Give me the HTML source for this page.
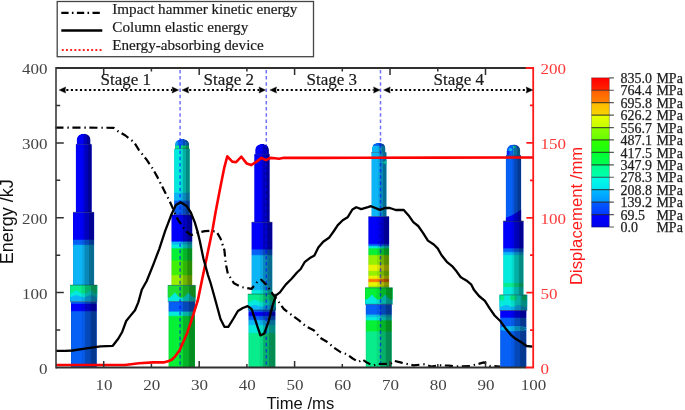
<!DOCTYPE html><html><head><meta charset="utf-8"><style>html,body{margin:0;padding:0;background:#fff;overflow:hidden}svg{display:block}</style></head><body>
<svg style="will-change:transform" width="685" height="410" viewBox="0 0 685 410">
<defs>
<linearGradient id="sh" x1="0" x2="1" y1="0" y2="0">
<stop offset="0" stop-color="#000" stop-opacity="0.10"/>
<stop offset="0.05" stop-color="#000" stop-opacity="0"/>
<stop offset="0.40" stop-color="#000" stop-opacity="0"/>
<stop offset="0.43" stop-color="#000" stop-opacity="0.07"/>
<stop offset="0.53" stop-color="#000" stop-opacity="0.08"/>
<stop offset="0.56" stop-color="#000" stop-opacity="0.24"/>
<stop offset="0.75" stop-color="#000" stop-opacity="0.26"/>
<stop offset="0.78" stop-color="#000" stop-opacity="0.40"/>
<stop offset="0.96" stop-color="#000" stop-opacity="0.42"/>
<stop offset="1" stop-color="#000" stop-opacity="0.30"/>
</linearGradient>
<radialGradient id="dm" cx="0.4" cy="0.7" r="0.7">
<stop offset="0" stop-color="#fff" stop-opacity="0.08"/>
<stop offset="1" stop-color="#000" stop-opacity="0.2"/>
</radialGradient>
</defs>
<rect x="57.2" y="1.5" width="256.3" height="55.2" fill="#fff" stroke="#444" stroke-width="1.3"/>
<line x1="61.3" y1="12.8" x2="100.5" y2="12.8" stroke="#000" stroke-width="2.3" stroke-dasharray="7.3 3.3 1.6 3.4"/>
<line x1="61.3" y1="30.5" x2="102.3" y2="30.5" stroke="#000" stroke-width="2.3"/>
<line x1="61.8" y1="50" x2="102" y2="50" stroke="#ff2020" stroke-width="1.9" stroke-dasharray="1.9 2.3"/>
<g style="font-family:'Liberation Serif',serif;font-size:15.15px" fill="#1a1a1a" stroke="#1a1a1a" stroke-width="0.2">
<text x="112.3" y="14.3">Impact hammer kinetic energy</text>
<text x="112.3" y="32.2">Column elastic energy</text>
<text x="112.3" y="50.2">Energy-absorbing device</text>
</g>
<clipPath id="dc1"><path d="M76.70,144.50 L76.70,140.22 C76.70,136.24 79.32,133.80 83.60,133.80 C87.88,133.80 90.50,136.24 90.50,140.22 L90.50,144.50 Z"/></clipPath>
<g clip-path="url(#dc1)"><path d="M76.70,144.50 L76.70,140.22 C76.70,136.24 79.32,133.80 83.60,133.80 C87.88,133.80 90.50,136.24 90.50,140.22 L90.50,144.50 Z" fill="#0000fa"/><rect x="76.7" y="133.8" width="13.8" height="10.7" fill="url(#sh)"/></g>
<line x1="76.1" y1="144.5" x2="91.1" y2="144.5" stroke="#102030" stroke-width="1.2" stroke-opacity="0.7"/>
<linearGradient id="cg1" x1="0" y1="0" x2="0" y2="1"><stop offset="0.0000" stop-color="#0000fa"/><stop offset="1.0000" stop-color="#0000fa"/></linearGradient><rect x="75.9" y="144.4" width="15.8" height="67.9" fill="url(#cg1)"/><rect x="75.9" y="144.4" width="15.8" height="67.9" fill="url(#sh)"/><linearGradient id="cg2" x1="0" y1="0" x2="0" y2="1"><stop offset="0.0000" stop-color="#0000fa"/><stop offset="0.3681" stop-color="#0000fa"/><stop offset="0.3874" stop-color="#0660f6"/><stop offset="0.4382" stop-color="#0660f6"/><stop offset="0.4574" stop-color="#0cb6f6"/><stop offset="1.0000" stop-color="#0cb6f6"/></linearGradient><rect x="73.0" y="212.3" width="21.1" height="72.8" fill="url(#cg2)"/><rect x="73.0" y="212.3" width="21.1" height="72.8" fill="url(#sh)"/><linearGradient id="cg3" x1="0" y1="0" x2="0" y2="1"><stop offset="0.0000" stop-color="#0cb6f6"/><stop offset="1.0000" stop-color="#0cb6f6"/></linearGradient><rect x="70.0" y="285.1" width="27.2" height="16.6" fill="url(#cg3)"/><path d="M70.00,285.10 L70.00,297.15 L70.40,297.08 L70.80,296.98 L71.20,296.86 L71.60,296.71 L72.00,296.55 L72.40,296.39 L72.80,296.21 L73.20,296.04 L73.60,295.87 L74.00,295.71 L74.40,295.56 L74.80,295.44 L75.20,295.34 L75.60,295.26 L76.00,295.22 L76.40,295.20 L76.80,295.22 L77.20,295.26 L77.60,295.34 L78.00,295.44 L78.40,295.56 L78.80,295.71 L79.20,295.87 L79.60,296.04 L80.00,296.21 L80.40,296.39 L80.80,296.55 L81.20,296.71 L81.60,296.85 L82.00,296.98 L82.40,297.07 L82.80,297.15 L83.20,297.19 L83.60,297.20 L84.00,297.18 L84.40,297.13 L84.80,297.05 L85.20,296.95 L85.60,296.82 L86.00,296.67 L86.40,296.51 L86.80,296.34 L87.20,296.17 L87.60,295.99 L88.00,295.83 L88.40,295.67 L88.80,295.53 L89.20,295.41 L89.60,295.31 L90.00,295.25 L90.40,295.21 L90.80,295.20 L91.20,295.22 L91.60,295.28 L92.00,295.36 L92.40,295.47 L92.80,295.60 L93.20,295.74 L93.60,295.91 L94.00,296.08 L94.40,296.25 L94.80,296.43 L95.20,296.60 L95.60,296.75 L96.00,296.89 L96.40,297.00 L96.80,297.10 L97.20,297.16 L97.20,297.16 L97.20,285.10 Z" fill="#04eadc"/><path d="M70.00,285.10 L70.00,293.55 L70.40,293.49 L70.80,293.39 L71.20,293.27 L71.60,293.13 L72.00,292.96 L72.40,292.77 L72.80,292.56 L73.20,292.33 L73.60,292.08 L74.00,291.81 L74.40,291.53 L74.80,291.24 L75.20,290.94 L75.60,290.63 L76.00,290.32 L76.40,290.00 L76.80,290.32 L77.20,290.63 L77.60,290.94 L78.00,291.24 L78.40,291.53 L78.80,291.81 L79.20,292.08 L79.60,292.33 L80.00,292.56 L80.40,292.77 L80.80,292.96 L81.20,293.13 L81.60,293.27 L82.00,293.39 L82.40,293.49 L82.80,293.55 L83.20,293.59 L83.60,293.60 L84.00,293.58 L84.40,293.54 L84.80,293.47 L85.20,293.37 L85.60,293.24 L86.00,293.09 L86.40,292.92 L86.80,292.72 L87.20,292.50 L87.60,292.27 L88.00,292.01 L88.40,291.74 L88.80,291.46 L89.20,291.17 L89.60,290.86 L90.00,290.55 L90.40,290.24 L90.80,290.08 L91.20,290.39 L91.60,290.71 L92.00,291.01 L92.40,291.31 L92.80,291.60 L93.20,291.88 L93.60,292.14 L94.00,292.39 L94.40,292.61 L94.80,292.82 L95.20,293.01 L95.60,293.17 L96.00,293.31 L96.40,293.42 L96.80,293.50 L97.20,293.56 L97.20,293.56 L97.20,285.10 Z" fill="#08ec8c"/><rect x="70.0" y="285.1" width="27.2" height="16.6" fill="url(#sh)"/><linearGradient id="cg4" x1="0" y1="0" x2="0" y2="1"><stop offset="0.0000" stop-color="#0660f6"/><stop offset="0.0213" stop-color="#0660f6"/><stop offset="0.0426" stop-color="#0000fa"/><stop offset="0.1322" stop-color="#0000fa"/><stop offset="0.1535" stop-color="#0660f6"/><stop offset="1.0000" stop-color="#0660f6"/></linearGradient><rect x="71.0" y="301.7" width="25.8" height="65.8" fill="url(#cg4)"/><rect x="71.0" y="301.7" width="25.8" height="65.8" fill="url(#sh)"/><line x1="73.0" y1="212.3" x2="94.1" y2="212.3" stroke="#102030" stroke-width="0.9" stroke-opacity="0.45"/><line x1="70.0" y1="285.1" x2="97.2" y2="285.1" stroke="#102030" stroke-width="0.9" stroke-opacity="0.45"/><line x1="70.0" y1="301.7" x2="97.2" y2="301.7" stroke="#102030" stroke-width="0.9" stroke-opacity="0.45"/>
<clipPath id="dc2"><path d="M175.10,149.30 L175.10,145.22 C175.10,141.43 177.76,139.10 182.10,139.10 C186.44,139.10 189.10,141.43 189.10,145.22 L189.10,149.30 Z"/></clipPath>
<g clip-path="url(#dc2)"><path d="M175.10,149.30 L175.10,145.22 C175.10,141.43 177.76,139.10 182.10,139.10 C186.44,139.10 189.10,141.43 189.10,145.22 L189.10,149.30 Z" fill="#0660f6"/><rect x="175" y="145.4" width="14.2" height="4" fill="#08ec8c"/><rect x="179.3" y="145.4" width="1.6" height="4" fill="#0660f6"/><rect x="175" y="141.8" width="3" height="3.6" fill="#0cb6f6" opacity="0.7"/><rect x="185" y="142" width="4" height="3.5" fill="#0cb6f6" opacity="0.6"/><rect x="175.1" y="139.1" width="14.0" height="10.2" fill="url(#sh)"/></g>
<line x1="174.5" y1="149.3" x2="189.7" y2="149.3" stroke="#102030" stroke-width="1.2" stroke-opacity="0.7"/>
<linearGradient id="cg5" x1="0" y1="0" x2="0" y2="1"><stop offset="0.0000" stop-color="#04eadc"/><stop offset="0.6545" stop-color="#04eadc"/><stop offset="0.6758" stop-color="#0cb6f6"/><stop offset="0.7747" stop-color="#0cb6f6"/><stop offset="0.7960" stop-color="#0660f6"/><stop offset="1.0000" stop-color="#0660f6"/></linearGradient><rect x="174.1" y="149.1" width="15.7" height="65.7" fill="url(#cg5)"/><rect x="174.1" y="149.1" width="15.7" height="65.7" fill="url(#sh)"/><linearGradient id="cg6" x1="0" y1="0" x2="0" y2="1"><stop offset="0.0000" stop-color="#0000fa"/><stop offset="0.3697" stop-color="#0000fa"/><stop offset="0.3895" stop-color="#0cb6f6"/><stop offset="0.4108" stop-color="#0cb6f6"/><stop offset="0.4306" stop-color="#04eadc"/><stop offset="0.4646" stop-color="#04eadc"/><stop offset="0.4844" stop-color="#06f036"/><stop offset="0.6374" stop-color="#06f036"/><stop offset="0.6572" stop-color="#40f008"/><stop offset="0.8442" stop-color="#40f008"/><stop offset="0.8640" stop-color="#96f000"/><stop offset="1.0000" stop-color="#96f000"/></linearGradient><rect x="171.5" y="214.8" width="20.7" height="70.6" fill="url(#cg6)"/><rect x="171.5" y="214.8" width="20.7" height="70.6" fill="url(#sh)"/><linearGradient id="cg7" x1="0" y1="0" x2="0" y2="1"><stop offset="0.0000" stop-color="#04eadc"/><stop offset="1.0000" stop-color="#04eadc"/></linearGradient><rect x="167.8" y="285.4" width="27.8" height="16.2" fill="url(#cg7)"/><path d="M167.80,285.40 L167.80,297.70 L168.20,297.69 L168.60,297.64 L169.00,297.54 L169.40,297.40 L169.80,297.22 L170.20,297.00 L170.60,296.73 L171.00,296.43 L171.40,296.10 L171.80,295.73 L172.20,295.33 L172.60,294.91 L173.00,294.47 L173.40,294.00 L173.80,293.53 L174.20,293.04 L174.60,292.55 L175.00,292.55 L175.40,293.04 L175.80,293.53 L176.20,294.00 L176.60,294.47 L177.00,294.91 L177.40,295.33 L177.80,295.73 L178.20,296.10 L178.60,296.43 L179.00,296.73 L179.40,297.00 L179.80,297.22 L180.20,297.40 L180.60,297.54 L181.00,297.64 L181.40,297.69 L181.80,297.70 L182.20,297.66 L182.60,297.57 L183.00,297.44 L183.40,297.27 L183.80,297.06 L184.20,296.80 L184.60,296.51 L185.00,296.18 L185.40,295.82 L185.80,295.43 L186.20,295.02 L186.60,294.58 L187.00,294.12 L187.40,293.65 L187.80,293.16 L188.20,292.67 L188.60,292.42 L189.00,292.92 L189.40,293.41 L189.80,293.89 L190.20,294.35 L190.60,294.80 L191.00,295.23 L191.40,295.63 L191.80,296.01 L192.20,296.35 L192.60,296.66 L193.00,296.93 L193.40,297.17 L193.80,297.36 L194.20,297.51 L194.60,297.62 L195.00,297.68 L195.40,297.70 L195.60,297.69 L195.60,285.40 Z" fill="#20e030"/><rect x="167.8" y="285.4" width="27.8" height="16.2" fill="url(#sh)"/><linearGradient id="cg8" x1="0" y1="0" x2="0" y2="1"><stop offset="0.0000" stop-color="#0660f6"/><stop offset="0.1411" stop-color="#0660f6"/><stop offset="0.1624" stop-color="#04eadc"/><stop offset="0.2079" stop-color="#04eadc"/><stop offset="0.2291" stop-color="#06f036"/><stop offset="1.0000" stop-color="#06f036"/></linearGradient><rect x="168.6" y="301.6" width="26.4" height="65.9" fill="url(#cg8)"/><rect x="168.6" y="301.6" width="26.4" height="65.9" fill="url(#sh)"/><line x1="171.5" y1="214.8" x2="192.2" y2="214.8" stroke="#102030" stroke-width="0.9" stroke-opacity="0.45"/><line x1="167.8" y1="285.4" x2="195.6" y2="285.4" stroke="#102030" stroke-width="0.9" stroke-opacity="0.45"/><line x1="167.8" y1="301.6" x2="195.6" y2="301.6" stroke="#102030" stroke-width="0.9" stroke-opacity="0.45"/>
<clipPath id="dc3"><path d="M255.20,154.50 L255.20,150.34 C255.20,146.47 257.80,144.10 262.05,144.10 C266.30,144.10 268.90,146.47 268.90,150.34 L268.90,154.50 Z"/></clipPath>
<g clip-path="url(#dc3)"><path d="M255.20,154.50 L255.20,150.34 C255.20,146.47 257.80,144.10 262.05,144.10 C266.30,144.10 268.90,146.47 268.90,150.34 L268.90,154.50 Z" fill="#0000fa"/><rect x="255.2" y="144.1" width="13.7" height="10.4" fill="url(#sh)"/></g>
<line x1="254.6" y1="154.5" x2="269.5" y2="154.5" stroke="#102030" stroke-width="1.2" stroke-opacity="0.7"/>
<linearGradient id="cg9" x1="0" y1="0" x2="0" y2="1"><stop offset="0.0000" stop-color="#0000fa"/><stop offset="1.0000" stop-color="#0000fa"/></linearGradient><rect x="254.3" y="154.3" width="15.3" height="67.9" fill="url(#cg9)"/><rect x="254.3" y="154.3" width="15.3" height="67.9" fill="url(#sh)"/><linearGradient id="cg10" x1="0" y1="0" x2="0" y2="1"><stop offset="0.0000" stop-color="#0000fa"/><stop offset="0.3686" stop-color="#0000fa"/><stop offset="0.3880" stop-color="#0660f6"/><stop offset="0.4478" stop-color="#0660f6"/><stop offset="0.4673" stop-color="#0cb6f6"/><stop offset="0.9332" stop-color="#0cb6f6"/><stop offset="0.9527" stop-color="#04eadc"/><stop offset="1.0000" stop-color="#04eadc"/></linearGradient><rect x="251.6" y="222.2" width="20.7" height="71.9" fill="url(#cg10)"/><rect x="251.6" y="222.2" width="20.7" height="71.9" fill="url(#sh)"/><linearGradient id="cg11" x1="0" y1="0" x2="0" y2="1"><stop offset="0.0000" stop-color="#0cb6f6"/><stop offset="1.0000" stop-color="#0cb6f6"/></linearGradient><rect x="247.9" y="294.1" width="28.1" height="15.9" fill="url(#cg11)"/><path d="M247.90,294.10 L247.90,306.68 L248.30,306.70 L248.70,306.68 L249.10,306.63 L249.50,306.56 L249.90,306.45 L250.30,306.32 L250.70,306.17 L251.10,306.01 L251.50,305.84 L251.90,305.67 L252.30,305.50 L252.70,305.35 L253.10,305.21 L253.50,305.09 L253.90,305.00 L254.30,304.94 L254.70,304.90 L255.10,304.90 L255.50,304.94 L255.90,305.00 L256.30,305.09 L256.70,305.21 L257.10,305.35 L257.50,305.51 L257.90,305.67 L258.30,305.84 L258.70,306.01 L259.10,306.18 L259.50,306.32 L259.90,306.45 L260.30,306.56 L260.70,306.64 L261.10,306.68 L261.50,306.70 L261.90,306.68 L262.30,306.63 L262.70,306.56 L263.10,306.45 L263.50,306.32 L263.90,306.17 L264.30,306.01 L264.70,305.84 L265.10,305.67 L265.50,305.50 L265.90,305.35 L266.30,305.21 L266.70,305.09 L267.10,305.00 L267.50,304.94 L267.90,304.90 L268.30,304.90 L268.70,304.94 L269.10,305.00 L269.50,305.09 L269.90,305.21 L270.30,305.35 L270.70,305.51 L271.10,305.67 L271.50,305.84 L271.90,306.01 L272.30,306.18 L272.70,306.32 L273.10,306.45 L273.50,306.56 L273.90,306.64 L274.30,306.68 L274.70,306.70 L275.10,306.68 L275.50,306.63 L275.90,306.56 L276.00,306.53 L276.00,294.10 Z" fill="#04eadc"/><path d="M247.90,294.10 L247.90,301.89 L248.30,301.90 L248.70,301.89 L249.10,301.85 L249.50,301.79 L249.90,301.71 L250.30,301.61 L250.70,301.49 L251.10,301.34 L251.50,301.18 L251.90,301.00 L252.30,300.81 L252.70,300.60 L253.10,300.38 L253.50,300.15 L253.90,299.91 L254.30,299.67 L254.70,299.42 L255.10,299.43 L255.50,299.67 L255.90,299.92 L256.30,300.15 L256.70,300.38 L257.10,300.60 L257.50,300.81 L257.90,301.00 L258.30,301.18 L258.70,301.35 L259.10,301.49 L259.50,301.61 L259.90,301.71 L260.30,301.80 L260.70,301.85 L261.10,301.89 L261.50,301.90 L261.90,301.89 L262.30,301.85 L262.70,301.79 L263.10,301.71 L263.50,301.61 L263.90,301.49 L264.30,301.34 L264.70,301.18 L265.10,301.00 L265.50,300.81 L265.90,300.60 L266.30,300.38 L266.70,300.15 L267.10,299.91 L267.50,299.67 L267.90,299.42 L268.30,299.43 L268.70,299.67 L269.10,299.92 L269.50,300.15 L269.90,300.38 L270.30,300.60 L270.70,300.81 L271.10,301.00 L271.50,301.18 L271.90,301.35 L272.30,301.49 L272.70,301.61 L273.10,301.71 L273.50,301.80 L273.90,301.85 L274.30,301.89 L274.70,301.90 L275.10,301.89 L275.50,301.85 L275.90,301.79 L276.00,301.78 L276.00,294.10 Z" fill="#08ec8c"/><rect x="247.9" y="294.1" width="28.1" height="15.9" fill="url(#sh)"/><linearGradient id="cg12" x1="0" y1="0" x2="0" y2="1"><stop offset="0.0000" stop-color="#0660f6"/><stop offset="0.0226" stop-color="#0660f6"/><stop offset="0.0470" stop-color="#0000fa"/><stop offset="0.0922" stop-color="#0000fa"/><stop offset="0.1165" stop-color="#0660f6"/><stop offset="0.1617" stop-color="#0660f6"/><stop offset="0.1861" stop-color="#0cb6f6"/><stop offset="0.2487" stop-color="#0cb6f6"/><stop offset="0.2730" stop-color="#04eadc"/><stop offset="0.3878" stop-color="#04eadc"/><stop offset="0.4122" stop-color="#08ec8c"/><stop offset="1.0000" stop-color="#08ec8c"/></linearGradient><rect x="248.5" y="310.0" width="26.9" height="57.5" fill="url(#cg12)"/><rect x="248.5" y="310.0" width="26.9" height="57.5" fill="url(#sh)"/><line x1="251.6" y1="222.2" x2="272.3" y2="222.2" stroke="#102030" stroke-width="0.9" stroke-opacity="0.45"/><line x1="247.9" y1="294.1" x2="276.0" y2="294.1" stroke="#102030" stroke-width="0.9" stroke-opacity="0.45"/><line x1="247.9" y1="310.0" x2="276.0" y2="310.0" stroke="#102030" stroke-width="0.9" stroke-opacity="0.45"/>
<clipPath id="dc4"><path d="M371.90,152.80 L371.90,148.88 C371.90,145.23 374.48,143.00 378.70,143.00 C382.92,143.00 385.50,145.23 385.50,148.88 L385.50,152.80 Z"/></clipPath>
<g clip-path="url(#dc4)"><path d="M371.90,152.80 L371.90,148.88 C371.90,145.23 374.48,143.00 378.70,143.00 C382.92,143.00 385.50,145.23 385.50,148.88 L385.50,152.80 Z" fill="#0cb6f6"/><rect x="371" y="142" width="16" height="3.8" fill="#0660f6"/><rect x="371.9" y="143.0" width="13.6" height="9.8" fill="url(#sh)"/></g>
<line x1="371.3" y1="152.8" x2="386.1" y2="152.8" stroke="#102030" stroke-width="1.2" stroke-opacity="0.7"/>
<linearGradient id="cg13" x1="0" y1="0" x2="0" y2="1"><stop offset="0.0000" stop-color="#0cb6f6"/><stop offset="1.0000" stop-color="#0cb6f6"/></linearGradient><rect x="371.5" y="152.6" width="15.0" height="64.0" fill="url(#cg13)"/><rect x="371.5" y="152.6" width="15.0" height="64.0" fill="url(#sh)"/><linearGradient id="cg14" x1="0" y1="0" x2="0" y2="1"><stop offset="0.0000" stop-color="#0000fa"/><stop offset="0.3750" stop-color="#0000fa"/><stop offset="0.3947" stop-color="#0660f6"/><stop offset="0.4031" stop-color="#0660f6"/><stop offset="0.4228" stop-color="#04eadc"/><stop offset="0.4354" stop-color="#04eadc"/><stop offset="0.4551" stop-color="#06f036"/><stop offset="0.5295" stop-color="#06f036"/><stop offset="0.5492" stop-color="#96f000"/><stop offset="0.6671" stop-color="#96f000"/><stop offset="0.6868" stop-color="#e8f400"/><stop offset="0.7528" stop-color="#e8f400"/><stop offset="0.7725" stop-color="#96f000"/><stop offset="0.8202" stop-color="#96f000"/><stop offset="0.8399" stop-color="#e8f400"/><stop offset="0.8666" stop-color="#e8f400"/><stop offset="0.8862" stop-color="#ff7400"/><stop offset="0.9087" stop-color="#ff7400"/><stop offset="0.9284" stop-color="#e8f400"/><stop offset="0.9649" stop-color="#e8f400"/><stop offset="0.9846" stop-color="#96f000"/><stop offset="1.0000" stop-color="#96f000"/></linearGradient><rect x="368.4" y="216.6" width="20.7" height="71.2" fill="url(#cg14)"/><rect x="368.4" y="216.6" width="20.7" height="71.2" fill="url(#sh)"/><linearGradient id="cg15" x1="0" y1="0" x2="0" y2="1"><stop offset="0.0000" stop-color="#04eadc"/><stop offset="1.0000" stop-color="#04eadc"/></linearGradient><rect x="365.0" y="287.8" width="27.6" height="16.5" fill="url(#cg15)"/><path d="M365.00,287.80 L365.00,299.59 L365.40,299.60 L365.80,299.56 L366.20,299.48 L366.60,299.35 L367.00,299.18 L367.40,298.97 L367.80,298.71 L368.20,298.41 L368.60,298.08 L369.00,297.71 L369.40,297.32 L369.80,296.90 L370.20,296.45 L370.60,295.99 L371.00,295.51 L371.40,295.02 L371.80,294.53 L372.20,294.77 L372.60,295.26 L373.00,295.74 L373.40,296.21 L373.80,296.67 L374.20,297.10 L374.60,297.51 L375.00,297.89 L375.40,298.24 L375.80,298.56 L376.20,298.84 L376.60,299.08 L377.00,299.27 L377.40,299.42 L377.80,299.53 L378.20,299.59 L378.60,299.60 L379.00,299.56 L379.40,299.48 L379.80,299.35 L380.20,299.18 L380.60,298.97 L381.00,298.71 L381.40,298.41 L381.80,298.08 L382.20,297.71 L382.60,297.32 L383.00,296.90 L383.40,296.45 L383.80,295.99 L384.20,295.51 L384.60,295.02 L385.00,294.53 L385.40,294.77 L385.80,295.26 L386.20,295.74 L386.60,296.21 L387.00,296.67 L387.40,297.10 L387.80,297.51 L388.20,297.89 L388.60,298.24 L389.00,298.56 L389.40,298.84 L389.80,299.08 L390.20,299.27 L390.60,299.42 L391.00,299.53 L391.40,299.59 L391.80,299.60 L392.20,299.56 L392.60,299.48 L392.60,299.48 L392.60,287.80 Z" fill="#06f036"/><rect x="365.0" y="287.8" width="27.6" height="16.5" fill="url(#sh)"/><linearGradient id="cg16" x1="0" y1="0" x2="0" y2="1"><stop offset="0.0000" stop-color="#0660f6"/><stop offset="0.1519" stop-color="#0660f6"/><stop offset="0.1741" stop-color="#10bce8"/><stop offset="0.1899" stop-color="#10bce8"/><stop offset="0.2120" stop-color="#04eadc"/><stop offset="0.2421" stop-color="#04eadc"/><stop offset="0.2642" stop-color="#06f036"/><stop offset="0.4193" stop-color="#06f036"/><stop offset="0.4415" stop-color="#08ec8c"/><stop offset="1.0000" stop-color="#08ec8c"/></linearGradient><rect x="365.8" y="304.3" width="26.0" height="63.2" fill="url(#cg16)"/><rect x="365.8" y="304.3" width="26.0" height="63.2" fill="url(#sh)"/><line x1="368.4" y1="216.6" x2="389.1" y2="216.6" stroke="#102030" stroke-width="0.9" stroke-opacity="0.45"/><line x1="365.0" y1="287.8" x2="392.6" y2="287.8" stroke="#102030" stroke-width="0.9" stroke-opacity="0.45"/><line x1="365.0" y1="304.3" x2="392.6" y2="304.3" stroke="#102030" stroke-width="0.9" stroke-opacity="0.45"/>
<path d="M386.5,160.2 L382.2,162.6 L386.5,164.8 Z" fill="#10c0a0" opacity="0.9"/>
<clipPath id="dc5"><path d="M506.60,155.60 L506.60,151.20 C506.60,147.11 509.18,144.60 513.40,144.60 C517.62,144.60 520.20,147.11 520.20,151.20 L520.20,155.60 Z"/></clipPath>
<g clip-path="url(#dc5)"><path d="M506.60,155.60 L506.60,151.20 C506.60,147.11 509.18,144.60 513.40,144.60 C517.62,144.60 520.20,147.11 520.20,151.20 L520.20,155.60 Z" fill="#0660f6"/><ellipse cx="510.5" cy="149.5" rx="1.8" ry="1.6" fill="#0cb6f6"/><ellipse cx="514.3" cy="147" rx="1.6" ry="1.1" fill="#08ec8c"/><path d="M513,148 L520.5,148 L520.5,156 L513,156 Z" fill="#10a0c8" opacity="0.75"/><rect x="506.5" y="151" width="3" height="5" fill="#0000fa" opacity="0.6"/><rect x="506.6" y="144.6" width="13.6" height="11.0" fill="url(#sh)"/></g>
<line x1="506.0" y1="155.6" x2="520.8" y2="155.6" stroke="#102030" stroke-width="1.2" stroke-opacity="0.7"/>
<linearGradient id="cg17" x1="0" y1="0" x2="0" y2="1"><stop offset="0.0000" stop-color="#0660f6"/><stop offset="1.0000" stop-color="#0660f6"/></linearGradient><rect x="505.9" y="155.6" width="15.2" height="65.6" fill="url(#cg17)"/><rect x="505.9" y="155.6" width="15.2" height="65.6" fill="url(#sh)"/><linearGradient id="cg18" x1="0" y1="0" x2="0" y2="1"><stop offset="0.0000" stop-color="#0000fa"/><stop offset="0.3582" stop-color="#0000fa"/><stop offset="0.3772" stop-color="#0660f6"/><stop offset="0.4084" stop-color="#0660f6"/><stop offset="0.4274" stop-color="#0cb6f6"/><stop offset="0.4491" stop-color="#0cb6f6"/><stop offset="0.4681" stop-color="#04eadc"/><stop offset="0.8290" stop-color="#04eadc"/><stop offset="0.8480" stop-color="#08ec8c"/><stop offset="0.8833" stop-color="#08ec8c"/><stop offset="0.9023" stop-color="#04eadc"/><stop offset="1.0000" stop-color="#04eadc"/></linearGradient><rect x="503.2" y="221.2" width="20.3" height="73.7" fill="url(#cg18)"/><rect x="503.2" y="221.2" width="20.3" height="73.7" fill="url(#sh)"/><linearGradient id="cg19" x1="0" y1="0" x2="0" y2="1"><stop offset="0.0000" stop-color="#0cb6f6"/><stop offset="1.0000" stop-color="#0cb6f6"/></linearGradient><rect x="499.5" y="294.9" width="27.7" height="15.6" fill="url(#cg19)"/><path d="M499.50,294.90 L499.50,306.87 L499.90,306.90 L500.30,306.89 L500.70,306.84 L501.10,306.75 L501.50,306.62 L501.90,306.47 L502.30,306.29 L502.70,306.10 L503.10,305.90 L503.50,305.70 L503.90,305.50 L504.30,305.33 L504.70,305.17 L505.10,305.05 L505.50,304.96 L505.90,304.91 L506.30,304.90 L506.70,304.93 L507.10,305.00 L507.50,305.11 L507.90,305.25 L508.30,305.42 L508.70,305.60 L509.10,305.80 L509.50,306.00 L509.90,306.20 L510.30,306.39 L510.70,306.55 L511.10,306.69 L511.50,306.80 L511.90,306.87 L512.30,306.90 L512.70,306.89 L513.10,306.84 L513.50,306.75 L513.90,306.62 L514.30,306.47 L514.70,306.29 L515.10,306.10 L515.50,305.90 L515.90,305.70 L516.30,305.50 L516.70,305.33 L517.10,305.17 L517.50,305.05 L517.90,304.96 L518.30,304.91 L518.70,304.90 L519.10,304.93 L519.50,305.00 L519.90,305.11 L520.30,305.25 L520.70,305.42 L521.10,305.60 L521.50,305.80 L521.90,306.00 L522.30,306.20 L522.70,306.39 L523.10,306.55 L523.50,306.69 L523.90,306.80 L524.30,306.87 L524.70,306.90 L525.10,306.89 L525.50,306.84 L525.90,306.75 L526.30,306.62 L526.70,306.47 L527.10,306.29 L527.20,306.25 L527.20,294.90 Z" fill="#04eadc"/><ellipse cx="501.9" cy="297.8" rx="2.6" ry="3.0" fill="#08ec8c"/><ellipse cx="513.2" cy="297.8" rx="3.6" ry="3.0" fill="#08ec8c"/><ellipse cx="524.3" cy="297.8" rx="2.6" ry="3.0" fill="#08ec8c"/><rect x="499.5" y="294.9" width="27.7" height="15.6" fill="url(#sh)"/><linearGradient id="cg20" x1="0" y1="0" x2="0" y2="1"><stop offset="0.0000" stop-color="#0000fa"/><stop offset="0.1158" stop-color="#0000fa"/><stop offset="0.1404" stop-color="#0660f6"/><stop offset="1.0000" stop-color="#0660f6"/></linearGradient><rect x="500.2" y="310.5" width="26.1" height="57.0" fill="url(#cg20)"/><rect x="500.2" y="310.5" width="26.1" height="57.0" fill="url(#sh)"/><line x1="503.2" y1="221.2" x2="523.5" y2="221.2" stroke="#102030" stroke-width="0.9" stroke-opacity="0.45"/><line x1="499.5" y1="294.9" x2="527.2" y2="294.9" stroke="#102030" stroke-width="0.9" stroke-opacity="0.45"/><line x1="499.5" y1="310.5" x2="527.2" y2="310.5" stroke="#102030" stroke-width="0.9" stroke-opacity="0.45"/>
<path d="M505.9,221.2 L505.9,217.8 C509,216.5 513,215 516,213 C518,211.5 520,210.5 521.1,209.8 L521.1,221.2 Z" fill="#0000fa"/><path d="M505.9,221.2 L505.9,217.8 C509,216.5 513,215 516,213 C518,211.5 520,210.5 521.1,209.8 L521.1,221.2 Z" fill="url(#sh)"/>
<line x1="503.2" y1="221.2" x2="523.5" y2="221.2" stroke="#102030" stroke-width="0.9" stroke-opacity="0.45"/>
<clipPath id="c5l"><rect x="500.2" y="310.5" width="26.1" height="57"/></clipPath><g clip-path="url(#c5l)"><ellipse cx="513.5" cy="328.6" rx="14.5" ry="2.6" fill="#0cb6f6"/><ellipse cx="513.25" cy="328.6" rx="13.05" ry="2.6" fill="url(#sh)"/></g>
<line x1="180.1" y1="68" x2="180.1" y2="367" stroke="#0000ff" stroke-width="1.5" stroke-dasharray="3.5 2.7" stroke-dashoffset="-1.9" stroke-opacity="0.56"/>
<line x1="266.3" y1="68" x2="266.3" y2="367" stroke="#0000ff" stroke-width="1.5" stroke-dasharray="3.5 2.7" stroke-dashoffset="-1.9" stroke-opacity="0.56"/>
<line x1="380.5" y1="68" x2="380.5" y2="367" stroke="#0000ff" stroke-width="1.5" stroke-dasharray="3.5 2.7" stroke-dashoffset="-1.9" stroke-opacity="0.56"/>
<polyline points="56.0,365.0 125.0,365.0 139.0,363.3 153.0,362.4 163.6,362.4 168.8,361.0 171.7,359.8 175.0,356.6 179.5,350.5 187.3,332.7 193.2,315.1 198.0,299.5 202.0,280.0 206.2,260.0 212.7,228.8 215.6,212.0 220.5,186.6 224.4,167.1 227.3,156.3 232.2,161.6 236.1,162.2 241.4,156.7 246.8,163.6 251.1,165.1 256.6,161.6 261.5,157.9 266.0,160.2 270.2,157.9 275.0,158.3 279.0,158.7 284.0,157.8 320.0,157.9 360.0,157.7 440.0,157.6 533.0,157.5" fill="none" stroke="#ff0000" stroke-width="2.6" stroke-linejoin="round"/>
<polyline points="56.0,350.9 65.5,350.9 72.5,350.5 86.5,348.4 100.5,346.3 112.8,345.8 118.4,338.5 122.3,331.7 126.2,321.0 130.1,316.1 135.0,310.2 138.3,302.4 141.8,289.8 146.7,281.0 153.4,264.4 159.3,248.8 165.1,231.2 171.0,215.6 175.9,204.9 180.7,202.3 186.6,205.9 190.9,212.7 194.8,222.4 197.7,232.2 199.6,240.0 203.4,258.5 208.0,275.1 210.6,283.0 214.5,297.0 220.5,319.0 224.4,326.8 228.3,326.8 233.2,319.0 237.9,311.0 242.8,308.0 247.7,306.1 251.6,309.0 255.5,320.7 260.4,335.4 264.3,333.4 268.2,322.7 273.0,304.1 276.0,295.4 279.9,292.4 285.7,284.6 291.6,278.8 297.0,272.5 300.7,269.0 304.6,262.2 309.5,258.3 314.4,255.4 318.3,247.6 323.2,241.7 329.0,237.8 333.9,231.0 337.8,225.1 342.7,220.2 347.6,217.3 352.4,209.5 356.3,207.2 361.2,209.1 368.0,207.2 371.0,206.2 380.0,209.9 385.0,208.0 389.9,208.0 395.7,210.0 403.5,209.8 408.4,215.2 413.3,222.1 418.2,226.0 423.0,232.8 427.9,240.6 433.8,244.5 437.7,248.4 441.6,255.2 446.8,261.8 452.7,266.7 456.5,271.3 460.6,277.0 463.8,279.1 467.2,281.1 471.1,284.3 474.1,290.1 479.0,296.0 484.9,300.9 489.8,308.7 494.6,315.5 500.5,321.3 505.4,328.2 510.6,334.6 515.0,338.3 520.8,341.9 526.6,346.0 532.5,346.6" fill="none" stroke="#000" stroke-width="2.3" stroke-linejoin="round"/>
<polyline points="55.4,127.6 113.7,127.8 117.6,131.0 125.4,135.5 134.1,142.3 139.0,150.1 146.8,159.9 152.7,168.7 157.6,177.4 165.4,193.0 169.8,201.5 177.6,219.0 185.4,230.7 191.2,235.2 199.0,232.3 204.9,231.1 210.0,230.8 216.6,231.7 220.5,238.5 224.4,250.1 225.8,263.8 227.8,273.5 234.0,283.3 241.8,287.2 251.6,288.8 257.4,281.7 261.3,279.8 266.2,284.6 273.0,294.4 278.9,302.2 283.8,309.0 291.6,314.9 299.4,320.7 305.9,326.3 313.7,330.2 320.5,338.0 327.3,342.0 334.1,347.8 341.0,352.3 346.8,354.2 352.7,358.5 358.5,362.0 362.4,359.5 367.3,362.8 373.2,365.4 378.0,364.0 390.2,363.9 394.6,360.9 400.5,362.4 406.3,363.9 413.6,365.3 423.9,364.3 431.2,366.5 438.5,365.3 448.7,365.6 456.0,366.5 470.0,366.0 484.0,362.4 490.0,366.0 500.0,366.5" fill="none" stroke="#000" stroke-width="2.2" stroke-linejoin="round" stroke-dasharray="8.1 3.9 1.4 3.6"/>
<path d="M103.7,367.5V361.0M103.7,68.0V75.0M151.4,367.5V364.1M151.4,68.0V71.6M199.2,367.5V361.0M199.2,68.0V75.0M246.9,367.5V364.1M246.9,68.0V71.6M294.6,367.5V361.0M294.6,68.0V75.0M342.3,367.5V364.1M342.3,68.0V71.6M390.0,367.5V361.0M390.0,68.0V75.0M437.8,367.5V364.1M437.8,68.0V71.6M485.5,367.5V361.0M485.5,68.0V75.0M56.0,330.1H60.2M56.0,292.6H63.8M56.0,255.2H60.2M56.0,217.8H63.8M56.0,180.3H60.2M56.0,142.9H63.8M56.0,105.4H60.2" stroke="#303030" stroke-width="1.5" fill="none"/>
<path d="M526.2,68.0H56.0" stroke="#303030" stroke-width="1.9" fill="none"/>
<path d="M56.0,67.1V368.4" stroke="#3a3a3a" stroke-width="1.6" fill="none"/>
<path d="M56.0,367.5H526.2" stroke="#303030" stroke-width="1.9" fill="none"/>
<path d="M525.7,68.0H533.2V367.5H525.7M533.2,330.1H530.0M533.2,292.6H526.4M533.2,255.2H530.0M533.2,217.8H526.4M533.2,180.3H530.0M533.2,142.9H526.4M533.2,105.4H530.0" stroke="#ff1a1a" stroke-width="1.8" fill="none"/>
<g style="font-family:'Liberation Serif',serif;font-size:15.6px" fill="#444" text-anchor="end">
<text transform="translate(47.4,373.7) scale(1.09,1)">0</text>
<text transform="translate(47.4,298.8) scale(1.09,1)">100</text>
<text transform="translate(47.4,223.9) scale(1.09,1)">200</text>
<text transform="translate(47.4,149.1) scale(1.09,1)">300</text>
<text transform="translate(47.4,74.2) scale(1.09,1)">400</text>
</g>
<g style="font-family:'Liberation Serif',serif;font-size:15.6px" fill="#444" text-anchor="middle">
<text transform="translate(104.1,389.9) scale(1.09,1)">10</text>
<text transform="translate(151.8,389.9) scale(1.09,1)">20</text>
<text transform="translate(199.6,389.9) scale(1.09,1)">30</text>
<text transform="translate(247.3,389.9) scale(1.09,1)">40</text>
<text transform="translate(295.0,389.9) scale(1.09,1)">50</text>
<text transform="translate(342.7,389.9) scale(1.09,1)">60</text>
<text transform="translate(390.4,389.9) scale(1.09,1)">70</text>
<text transform="translate(438.2,389.9) scale(1.09,1)">80</text>
<text transform="translate(485.9,389.9) scale(1.09,1)">90</text>
<text transform="translate(533.6,389.9) scale(1.09,1)">100</text>
</g>
<g style="font-family:'Liberation Serif',serif;font-size:15.6px" fill="#ff3838">
<text transform="translate(540.6,373.7) scale(1.09,1)">0</text>
<text transform="translate(540.6,298.8) scale(1.09,1)">50</text>
<text transform="translate(540.6,223.9) scale(1.09,1)">100</text>
<text transform="translate(540.6,149.1) scale(1.09,1)">150</text>
<text transform="translate(540.6,74.2) scale(1.09,1)">200</text>
</g>
<text x="300.4" y="409.2" text-anchor="middle" style="font-family:'Liberation Sans',sans-serif;font-size:16.6px" fill="#111">Time /ms</text>
<text transform="translate(13.3,221.7) rotate(-90)" text-anchor="middle" style="font-family:'Liberation Sans',sans-serif;font-size:18px" fill="#111">Energy /kJ</text>
<text transform="translate(582.4,215.9) rotate(-90)" text-anchor="middle" style="font-family:'Liberation Sans',sans-serif;font-size:16.7px" fill="#ff1a1a">Displacement /mm</text>
<line x1="66.3" y1="90" x2="172.2" y2="90" stroke="#000" stroke-width="2.1" stroke-dasharray="2.1 2.45"/><path d="M59.1,90 L65.7,86.9 L65.1,90 L65.7,93.1 Z" fill="#000" stroke="#000" stroke-width="0.4" stroke-linejoin="round"/><path d="M178.7,90 L172.1,86.9 L172.7,90 L172.1,93.1 Z" fill="#000" stroke="#000" stroke-width="0.4" stroke-linejoin="round"/>
<line x1="189.2" y1="90" x2="259.1" y2="90" stroke="#000" stroke-width="2.1" stroke-dasharray="2.1 2.45"/><path d="M182.0,90 L188.6,86.9 L188.0,90 L188.6,93.1 Z" fill="#000" stroke="#000" stroke-width="0.4" stroke-linejoin="round"/><path d="M265.6,90 L259.0,86.9 L259.6,90 L259.0,93.1 Z" fill="#000" stroke="#000" stroke-width="0.4" stroke-linejoin="round"/>
<line x1="277.1" y1="90" x2="373.7" y2="90" stroke="#000" stroke-width="2.1" stroke-dasharray="2.1 2.45"/><path d="M269.9,90 L276.5,86.9 L275.9,90 L276.5,93.1 Z" fill="#000" stroke="#000" stroke-width="0.4" stroke-linejoin="round"/><path d="M380.2,90 L373.6,86.9 L374.2,90 L373.6,93.1 Z" fill="#000" stroke="#000" stroke-width="0.4" stroke-linejoin="round"/>
<line x1="390.8" y1="90" x2="526.3" y2="90" stroke="#000" stroke-width="2.1" stroke-dasharray="2.1 2.45"/><path d="M383.6,90 L390.2,86.9 L389.6,90 L390.2,93.1 Z" fill="#000" stroke="#000" stroke-width="0.4" stroke-linejoin="round"/><path d="M532.8,90 L526.2,86.9 L526.8,90 L526.2,93.1 Z" fill="#000" stroke="#000" stroke-width="0.4" stroke-linejoin="round"/>
<g style="font-family:'Liberation Serif',serif;font-size:17px" fill="#1a1a1a" stroke="#1a1a1a" stroke-width="0.2">
<text x="100.6" y="85.0">Stage 1</text>
<text x="203.5" y="85.0">Stage 2</text>
<text x="306.6" y="85.0">Stage 3</text>
<text x="433.5" y="85.0">Stage 4</text>
</g>
<linearGradient id="cb0" x1="0" y1="0" x2="0" y2="1"><stop offset="0" stop-color="#ff0000"/><stop offset="1" stop-color="#ff2500"/></linearGradient><rect x="591.6" y="77.80" width="17.7" height="12.63" fill="url(#cb0)"/><linearGradient id="cb1" x1="0" y1="0" x2="0" y2="1"><stop offset="0" stop-color="#ff5d00"/><stop offset="1" stop-color="#ff8200"/></linearGradient><rect x="591.6" y="90.23" width="17.7" height="12.63" fill="url(#cb1)"/><linearGradient id="cb2" x1="0" y1="0" x2="0" y2="1"><stop offset="0" stop-color="#ffb900"/><stop offset="1" stop-color="#f6d500"/></linearGradient><rect x="591.6" y="102.67" width="17.7" height="12.63" fill="url(#cb2)"/><linearGradient id="cb3" x1="0" y1="0" x2="0" y2="1"><stop offset="0" stop-color="#e8ff00"/><stop offset="1" stop-color="#c3ff00"/></linearGradient><rect x="591.6" y="115.10" width="17.7" height="12.63" fill="url(#cb3)"/><linearGradient id="cb4" x1="0" y1="0" x2="0" y2="1"><stop offset="0" stop-color="#8bff00"/><stop offset="1" stop-color="#66ff00"/></linearGradient><rect x="591.6" y="127.53" width="17.7" height="12.63" fill="url(#cb4)"/><linearGradient id="cb5" x1="0" y1="0" x2="0" y2="1"><stop offset="0" stop-color="#2eff00"/><stop offset="1" stop-color="#1cff12"/></linearGradient><rect x="591.6" y="139.97" width="17.7" height="12.63" fill="url(#cb5)"/><linearGradient id="cb6" x1="0" y1="0" x2="0" y2="1"><stop offset="0" stop-color="#00ff2e"/><stop offset="1" stop-color="#00ff53"/></linearGradient><rect x="591.6" y="152.40" width="17.7" height="12.63" fill="url(#cb6)"/><linearGradient id="cb7" x1="0" y1="0" x2="0" y2="1"><stop offset="0" stop-color="#00ff8b"/><stop offset="1" stop-color="#00ffb0"/></linearGradient><rect x="591.6" y="164.83" width="17.7" height="12.63" fill="url(#cb7)"/><linearGradient id="cb8" x1="0" y1="0" x2="0" y2="1"><stop offset="0" stop-color="#00ffe8"/><stop offset="1" stop-color="#00e3f1"/></linearGradient><rect x="591.6" y="177.27" width="17.7" height="12.63" fill="url(#cb8)"/><linearGradient id="cb9" x1="0" y1="0" x2="0" y2="1"><stop offset="0" stop-color="#00b9ff"/><stop offset="1" stop-color="#0094ff"/></linearGradient><rect x="591.6" y="189.70" width="17.7" height="12.63" fill="url(#cb9)"/><linearGradient id="cb10" x1="0" y1="0" x2="0" y2="1"><stop offset="0" stop-color="#005dff"/><stop offset="1" stop-color="#0038ff"/></linearGradient><rect x="591.6" y="202.13" width="17.7" height="12.63" fill="url(#cb10)"/><linearGradient id="cb11" x1="0" y1="0" x2="0" y2="1"><stop offset="0" stop-color="#0000ff"/><stop offset="1" stop-color="#0000ec"/></linearGradient><rect x="591.6" y="214.57" width="17.7" height="12.63" fill="url(#cb11)"/>
<rect x="591.6" y="77.8" width="17.7" height="149.2" fill="none" stroke="#000" stroke-opacity="0.35" stroke-width="0.8"/>
<path d="M609.3,77.80H613.9M591.6,90.23H609.3M609.3,90.23H613.9M591.6,102.67H609.3M609.3,102.67H613.9M591.6,115.10H609.3M609.3,115.10H613.9M591.6,127.53H609.3M609.3,127.53H613.9M591.6,139.97H609.3M609.3,139.97H613.9M591.6,152.40H609.3M609.3,152.40H613.9M591.6,164.83H609.3M609.3,164.83H613.9M591.6,177.27H609.3M609.3,177.27H613.9M591.6,189.70H609.3M609.3,189.70H613.9M591.6,202.13H609.3M609.3,202.13H613.9M591.6,214.57H609.3M609.3,214.57H613.9M609.3,227.00H613.9" stroke="#222" stroke-opacity="0.75" stroke-width="1.2" fill="none"/>
<g style="font-family:'Liberation Serif',serif;font-size:14.0px" fill="#1e1e1e" stroke="#1e1e1e" stroke-width="0.25">
<text x="620.6" y="82.9">835.0</text><text x="656.4" y="82.9">MPa</text>
<text x="620.6" y="95.3">764.4</text><text x="656.4" y="95.3">MPa</text>
<text x="620.6" y="107.8">695.8</text><text x="656.4" y="107.8">MPa</text>
<text x="620.6" y="120.2">626.2</text><text x="656.4" y="120.2">MPa</text>
<text x="620.6" y="132.6">556.7</text><text x="656.4" y="132.6">MPa</text>
<text x="620.6" y="145.1">487.1</text><text x="656.4" y="145.1">MPa</text>
<text x="620.6" y="157.5">417.5</text><text x="656.4" y="157.5">MPa</text>
<text x="620.6" y="169.9">347.9</text><text x="656.4" y="169.9">MPa</text>
<text x="620.6" y="182.4">278.3</text><text x="656.4" y="182.4">MPa</text>
<text x="620.6" y="194.8">208.8</text><text x="656.4" y="194.8">MPa</text>
<text x="620.6" y="207.2">139.2</text><text x="656.4" y="207.2">MPa</text>
<text x="620.6" y="219.7">69.5</text><text x="656.4" y="219.7">MPa</text>
<text x="620.6" y="232.1">0.0</text><text x="656.4" y="232.1">MPa</text>
</g>
</svg></body></html>
